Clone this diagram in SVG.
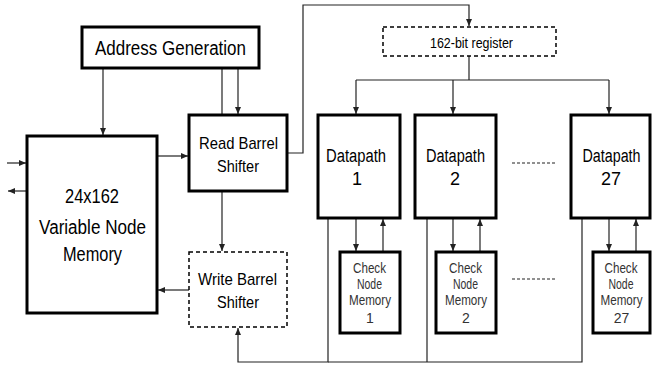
<svg xmlns="http://www.w3.org/2000/svg" width="652" height="369" viewBox="0 0 652 369">
<style>
.box{fill:#fff;stroke:#000;stroke-width:3}
.dbox{fill:#fff;stroke:#000;stroke-width:1.5;stroke-dasharray:4 3}
.ln{fill:none;stroke:#222;stroke-width:1.2}
.arr{fill:none;stroke:#222;stroke-width:1.2;marker-end:url(#ah)}
.t{font-family:"Liberation Sans",Arial,sans-serif;fill:#000;text-anchor:middle}
.s{font-family:"Liberation Sans",Arial,sans-serif;fill:#333;text-anchor:middle;font-size:14px}
</style>
<defs>
<marker id="ah" markerWidth="8" markerHeight="8" refX="7" refY="4" orient="auto" markerUnits="userSpaceOnUse">
<path d="M0,1 L7,4 L0,7 Z" fill="#222"/>
</marker>
</defs>
<rect width="652" height="369" fill="#fff"/>
<g id="connectors">
<path class="arr" d="M103,68 V135"/>
<path class="ln" d="M222,68 V115"/>
<path class="arr" d="M238,68 V114"/>
<path class="arr" d="M157,156 H188"/>
<path class="arr" d="M7,163 H26"/>
<path class="arr" d="M27,191 H8"/>
<path class="arr" d="M222,191 V251"/>
<path class="arr" d="M189,290 H158"/>
<path class="arr" d="M287,153 H303 V5 H469 V26"/>
<path class="ln" d="M469,56 V80"/>
<path class="ln" d="M356,80 H609"/>
<path class="arr" d="M356,80 V114"/>
<path class="arr" d="M453,80 V114"/>
<path class="arr" d="M609,80 V114"/>
<path class="arr" d="M356,218 V251"/>
<path class="arr" d="M383,252 V219"/>
<path class="arr" d="M453,218 V251"/>
<path class="arr" d="M480,252 V219"/>
<path class="arr" d="M609,218 V251"/>
<path class="arr" d="M636,252 V219"/>
<path class="arr" d="M328,218 V362 H238 V328"/>
<path class="ln" d="M328,362 H582 V218"/>
<path class="ln" d="M427,218 V362"/>
<path class="ln" d="M512,163 H556" stroke-dasharray="3 2"/>
<path class="ln" d="M512,279 H556" stroke-dasharray="3 2"/>
</g>
<g id="address-generation">
<rect class="box" x="82" y="27" width="177" height="41"/>
<text class="t" x="170.5" y="55" font-size="20" textLength="151" lengthAdjust="spacingAndGlyphs">Address Generation</text>
</g>
<g id="variable-node-memory">
<rect class="box" x="27" y="136" width="130" height="177"/>
<text class="t" x="92" y="203" font-size="20" textLength="54" lengthAdjust="spacingAndGlyphs">24x162</text>
<text class="t" x="92.5" y="234" font-size="20" textLength="107" lengthAdjust="spacingAndGlyphs">Variable Node</text>
<text class="t" x="92.5" y="261" font-size="20" textLength="59" lengthAdjust="spacingAndGlyphs">Memory</text>
</g>
<g id="read-barrel-shifter">
<rect class="box" x="189" y="115" width="98" height="76"/>
<text class="t" x="238.5" y="149" font-size="17" textLength="79" lengthAdjust="spacingAndGlyphs">Read Barrel</text>
<text class="t" x="238" y="172" font-size="17" textLength="42" lengthAdjust="spacingAndGlyphs">Shifter</text>
</g>
<g id="write-barrel-shifter">
<rect class="dbox" x="189" y="252" width="98" height="75"/>
<text class="t" x="237.5" y="285" font-size="17" textLength="79" lengthAdjust="spacingAndGlyphs">Write Barrel</text>
<text class="t" x="238" y="308" font-size="17" textLength="42" lengthAdjust="spacingAndGlyphs">Shifter</text>
</g>
<g id="register">
<rect class="dbox" x="383" y="27" width="173" height="29"/>
<text class="t" x="471.5" y="48" font-size="15" textLength="83" lengthAdjust="spacingAndGlyphs">162-bit register</text>
</g>
<g id="datapath-1">
<rect class="box" x="318" y="115" width="82" height="103"/>
<text class="t" x="356" y="162" font-size="18" textLength="60" lengthAdjust="spacingAndGlyphs">Datapath</text>
<text class="t" x="357" y="185" font-size="18">1</text>
</g>
<g id="datapath-2">
<rect class="box" x="415" y="115" width="81" height="103"/>
<text class="t" x="455.5" y="162" font-size="18" textLength="59" lengthAdjust="spacingAndGlyphs">Datapath</text>
<text class="t" x="455" y="185" font-size="18">2</text>
</g>
<g id="datapath-27">
<rect class="box" x="571" y="115" width="79" height="103"/>
<text class="t" x="611.5" y="162" font-size="18" textLength="58" lengthAdjust="spacingAndGlyphs">Datapath</text>
<text class="t" x="611" y="185" font-size="18">27</text>
</g>
<g id="check-node-memory-1">
<rect class="box" x="340" y="252" width="60" height="81"/>
<text class="s" x="369.5" y="273" textLength="33" lengthAdjust="spacingAndGlyphs">Check</text>
<text class="s" x="369.5" y="289" textLength="25" lengthAdjust="spacingAndGlyphs">Node</text>
<text class="s" x="370" y="305" textLength="42" lengthAdjust="spacingAndGlyphs">Memory</text>
<text class="s" x="370" y="323">1</text>
</g>
<g id="check-node-memory-2">
<rect class="box" x="436" y="252" width="60" height="81"/>
<text class="s" x="465.5" y="273" textLength="33" lengthAdjust="spacingAndGlyphs">Check</text>
<text class="s" x="465.5" y="289" textLength="25" lengthAdjust="spacingAndGlyphs">Node</text>
<text class="s" x="466" y="305" textLength="42" lengthAdjust="spacingAndGlyphs">Memory</text>
<text class="s" x="466" y="323">2</text>
</g>
<g id="check-node-memory-27">
<rect class="box" x="593" y="252" width="57" height="81"/>
<text class="s" x="621" y="273" textLength="33" lengthAdjust="spacingAndGlyphs">Check</text>
<text class="s" x="621" y="289" textLength="25" lengthAdjust="spacingAndGlyphs">Node</text>
<text class="s" x="621.5" y="305" textLength="42" lengthAdjust="spacingAndGlyphs">Memory</text>
<text class="s" x="621.5" y="323">27</text>
</g>
</svg>
